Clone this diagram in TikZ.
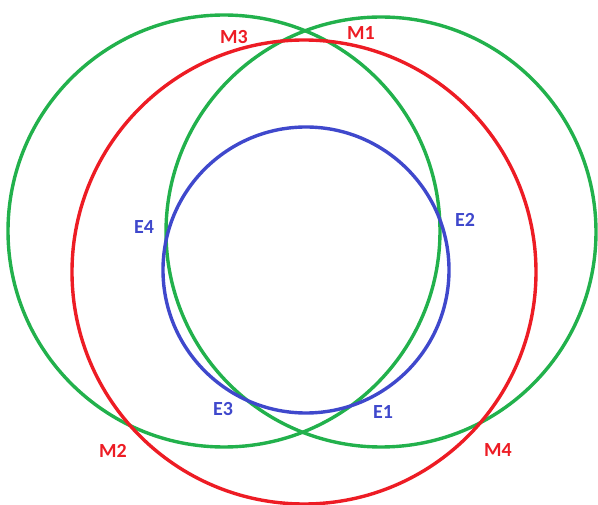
\documentclass[tikz,border=0pt]{standalone}
\usepackage{fontspec}
\setmainfont{Carlito}
\usepackage{tikz}
\usetikzlibrary{positioning}
\definecolor{cGreen}{RGB}{34,177,76}
\definecolor{cRed}{RGB}{237,28,36}
\definecolor{cBlue}{RGB}{63,72,204}
\tikzset{
	ring/.style    ={line width=3.4pt},
	mlabel/.style  ={text=cRed, font=\fontsize{20}{20}\selectfont\bfseries, inner sep=0pt},
	elabel/.style  ={text=cBlue, font=\fontsize{20}{20}\selectfont\bfseries, inner sep=0pt},
}
\begin{document}
\begin{tikzpicture}[x=1pt, y=-1pt]
	\useasboundingbox (0,0) rectangle (598,505);
	% orbits
	\draw[ring, cGreen] (224,231) circle[radius=216pt];
	\draw[ring, cGreen] (381,232) circle[radius=215pt];
	\draw[ring, cRed] (304,272) circle[radius=232pt];
	\draw[ring, cBlue] (306,270) circle[radius=143pt];
	% labels
	\node[mlabel] (m1) at (361,33) {M1};
	\node[mlabel] (m2) at (113,451) {M2};
	\node[mlabel] (m3) at (234,37) {M3};
	\node[mlabel] (m4) at (498,450) {M4};
	\node[elabel] (e1) at (383,412) {E1};
	\node[elabel] (e2) at (465,220) {E2};
	\node[elabel] (e3) at (223,409) {E3};
	\node[elabel] (e4) at (144,227) {E4};
\end{tikzpicture}
\end{document}
